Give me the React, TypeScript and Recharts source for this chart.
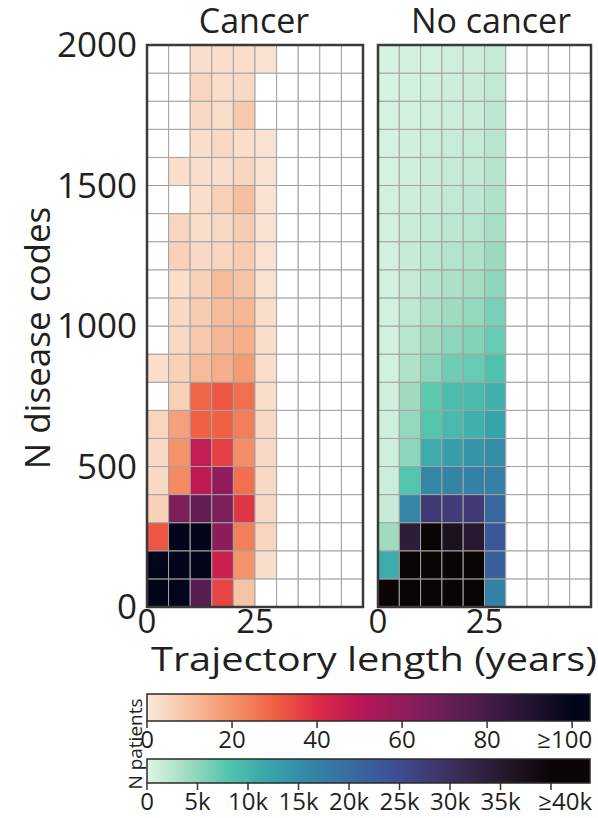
import React from "react";
import { ComposedChart, XAxis, YAxis, ReferenceArea } from "recharts";

// ---------- data ----------
const X_BIN_WIDTH = 5; // years per column
const X_BINS = [0, 5, 10, 15, 20, 25, 30, 35, 40, 45];
const Y_BIN_HEIGHT = 100; // disease codes per row
const Y_BINS = [0, 100, 200, 300, 400, 500, 600, 700, 800, 900, 1000, 1100, 1200, 1300, 1400, 1500, 1600, 1700, 1800, 1900];

const HEAT_X_TICKS = [0, 25];
const HEAT_Y_TICKS = [0, 500, 1000, 1500, 2000];

// N patients, cancer; row 0 = 0–100 codes (bottom); columns = trajectory bins (missing = 0)
const CANCER_ROWS: number[][] = [
  [100, 100, 75, 35, 9, 0],
  [100, 100, 100, 45, 20, 3],
  [32, 100, 100, 62, 24, 5],
  [6, 65, 72, 65, 38, 4],
  [4, 22, 48, 60, 27, 4],
  [4, 20, 47, 36, 21, 4],
  [5, 17, 30, 30, 24, 4],
  [0, 6, 29, 32, 27, 3],
  [3, 6, 11, 14, 18, 3],
  [0, 4, 8, 12, 14, 3],
  [0, 4, 7, 11, 12, 3],
  [0, 3, 6, 11, 9, 2],
  [0, 6, 4, 5, 7, 2],
  [0, 5, 3, 4, 7, 2],
  [0, 0, 3, 6, 10, 2],
  [0, 3, 3, 3, 5, 2],
  [0, 0, 3, 4, 3, 2],
  [0, 0, 4, 3, 8, 0],
  [0, 0, 5, 3, 4, 0],
  [0, 0, 3, 3, 3, 2],
];

// N patients (thousands), no cancer
const NOCANCER_ROWS: number[][] = [
  [41, 41, 41, 41, 41, 17],
  [11, 41, 41, 41, 41, 22],
  [4, 34, 41, 37, 35, 23],
  [1.5, 16, 28, 27.5, 28, 21],
  [1.2, 8, 16, 16.5, 17, 17],
  [1, 5, 11, 13, 14, 15],
  [1, 4.5, 8, 9.5, 10.5, 12],
  [0.9, 4, 7.5, 9, 9.5, 10.5],
  [0.8, 3, 5, 6.5, 7, 8.5],
  [0.8, 2.5, 4, 5, 5.5, 7],
  [0.8, 2, 3.3, 4, 4.5, 6],
  [0.8, 1.7, 2.6, 3.2, 3.7, 5],
  [0.7, 1.5, 2.2, 2.7, 3, 4.2],
  [0.7, 1.3, 1.8, 2.2, 2.5, 3.5],
  [0.7, 1.2, 1.5, 1.8, 2.1, 3],
  [0.6, 1, 1.3, 1.6, 1.8, 2.6],
  [0.6, 0.9, 1.2, 1.4, 1.6, 2.3],
  [0.6, 0.8, 1, 1.2, 1.4, 2.1],
  [0.5, 0.8, 0.9, 1.1, 1.3, 1.9],
  [0.5, 0.7, 0.8, 1, 1.2, 1.7],
];

// colour bars
const CANCER_BAR_MAX = 104.2;
const CANCER_SAT = 100;
const CANCER_BAR_TICKS = [0, 20, 40, 60, 80, 100];
const CANCER_BAR_LABELS = ["0", "20", "40", "60", "80", "≥100"];
const NOCANCER_BAR_MAX = 43.86;
const NOCANCER_SAT = 40;
const NOCANCER_BAR_TICKS = [0, 5, 10, 15, 20, 25, 30, 35, 40];
const NOCANCER_BAR_LABELS = ["0", "5k", "10k", "15k", "20k", "25k", "30k", "35k", "≥40k"];

// colormaps (dark -> light)
const ROCKET = ["#03051a", "#221331", "#451c47", "#6a1f56", "#921c5b", "#b91657", "#dd2c45", "#f06043", "#f5936a", "#f6bfa0", "#faebdd"];
const MAKO = ["#0b0405", "#231526", "#35264c", "#403a75", "#3d5296", "#366da0", "#3487a6", "#37a4ab", "#52c5ad", "#a0dbc0", "#def5e5"];

// ---------- helpers ----------
const FONT = "'Open Sans', 'Noto Sans', sans-serif";
const TEXT = "#231f20";

function hexToRgb(h: string) {
  const n = parseInt(h.slice(1), 16);
  return [(n >> 16) & 255, (n >> 8) & 255, n & 255];
}
function interp(stops: string[], t: number) {
  const tt = Math.max(0, Math.min(1, t)) * (stops.length - 1);
  const i = Math.min(stops.length - 2, Math.floor(tt));
  const f = tt - i;
  const a = hexToRgb(stops[i]);
  const b = hexToRgb(stops[i + 1]);
  const c = a.map((v, k) => Math.round(v + (b[k] - v) * f));
  return `rgb(${c[0]},${c[1]},${c[2]})`;
}
const cancerColor = (v: number) => (v <= 0 ? "#ffffff" : interp(ROCKET, 1 - Math.min(v, CANCER_SAT) / CANCER_SAT));
const noCancerColor = (v: number) => (v <= 0 ? "#ffffff" : interp(MAKO, 1 - Math.min(v, NOCANCER_SAT) / NOCANCER_SAT));

function buildCells(rows: number[][], colorFn: (v: number) => string) {
  const cells: { x1: number; x2: number; y1: number; y2: number; fill: string; key: string }[] = [];
  Y_BINS.forEach((y, r) => {
    X_BINS.forEach((x, c) => {
      const v = rows[r] && rows[r][c] !== undefined ? rows[r][c] : 0;
      cells.push({ x1: x, x2: x + X_BIN_WIDTH, y1: y, y2: y + Y_BIN_HEIGHT, fill: colorFn(v), key: `${r}-${c}` });
    });
  });
  return cells;
}

const X_MAX = X_BINS[X_BINS.length - 1] + X_BIN_WIDTH;
const Y_MAX = Y_BINS[Y_BINS.length - 1] + Y_BIN_HEIGHT;

function Heatmap({ rows, colorFn, showY, width, margin }: { rows: number[][]; colorFn: (v: number) => string; showY: boolean; width: number; margin: any }) {
  const cells = buildCells(rows, colorFn);
  return (
    <ComposedChart width={width} height={650} margin={margin} data={[]} style={{ overflow: "visible" }}>
      <XAxis
        type="number"
        dataKey="x"
        domain={[0, X_MAX]}
        ticks={HEAT_X_TICKS}
        allowDataOverflow
        axisLine={false}
        tickLine={false}
        tickSize={0}
        tickMargin={3}
        height={43}
        interval={0}
        tick={{ fontSize: 33, fill: TEXT, fontFamily: FONT }}
      />
      <YAxis
        type="number"
        dataKey="y"
        domain={[0, Y_MAX]}
        ticks={HEAT_Y_TICKS}
        allowDataOverflow
        hide={!showY}
        axisLine={false}
        tickLine={false}
        tickSize={8}
        tickMargin={2}
        width={100}
        interval={0}
        tick={{ fontSize: 35, fill: TEXT, fontFamily: FONT }}
      />
      {cells.map((c) => (
        <ReferenceArea key={c.key} x1={c.x1} x2={c.x2} y1={c.y1} y2={c.y2} fill={c.fill} fillOpacity={1} stroke="#a3a3a3" strokeWidth={1} ifOverflow="visible" />
      ))}
      <ReferenceArea x1={0} x2={X_MAX} y1={0} y2={Y_MAX} fill="none" fillOpacity={0} stroke="#3a3a3a" strokeWidth={2.5} ifOverflow="visible" />
    </ComposedChart>
  );
}

function makeTick(labels: string[], ticks: number[], lastDx: number) {
  return (props: any) => {
    const { x, y, payload } = props;
    const idx = ticks.indexOf(payload.value);
    const isLast = idx === ticks.length - 1;
    return (
      <text x={isLast ? x + lastDx : x} y={y} dy="0.71em" textAnchor={isLast ? "end" : "middle"} fontSize={24} fill={TEXT} fontFamily={FONT}>
        {labels[idx]}
      </text>
    );
  };
}

function ColorBar({ id, stops, satMax, barMax, ticks, labels, height, axisHeight, lastDx, tickMargin }: any) {
  const gradStops: { off: number; color: string }[] = [];
  const n = 20;
  for (let i = 0; i <= n; i++) {
    const v = (satMax * i) / n;
    gradStops.push({ off: v / barMax, color: interp(stops, 1 - i / n) });
  }
  gradStops.push({ off: 1, color: stops[0] });
  return (
    <ComposedChart width={598} height={height} margin={{ top: 4, right: 8, left: 147, bottom: 0 }} data={[{ x: 0, y: 0 }, { x: barMax, y: 1 }]} style={{ overflow: "visible" }}>
      <defs>
        <linearGradient id={id} x1="0" y1="0" x2="1" y2="0">
          {gradStops.map((s, i) => (
            <stop key={i} offset={s.off} stopColor={s.color} />
          ))}
        </linearGradient>
      </defs>
      <XAxis
        type="number"
        dataKey="x"
        domain={[0, barMax]}
        ticks={ticks}
        allowDataOverflow
        axisLine={false}
        tickLine={{ stroke: "#333", strokeWidth: 1.5 }}
        tickSize={7}
        tickMargin={tickMargin}
        height={axisHeight}
        interval={0}
        tick={makeTick(labels, ticks, lastDx)}
      />
      <YAxis type="number" dataKey="y" domain={[0, 1]} ticks={[0, 1]} allowDataOverflow hide width={0} />
      <ReferenceArea x1={0} x2={barMax} y1={0} y2={1} fill={`url(#${id})`} fillOpacity={1} stroke="#2a2a2a" strokeWidth={1.5} ifOverflow="visible" />
    </ComposedChart>
  );
}

export default function App() {
  return (
    <div style={{ position: "absolute", left: 0, top: 0, width: 598, height: 818, background: "#fff", overflow: "hidden", fontFamily: FONT }}>
      <div style={{ position: "absolute", left: 0, top: 0 }}>
        <Heatmap rows={CANCER_ROWS} colorFn={cancerColor} showY width={370} margin={{ top: 45, right: 7, left: 47, bottom: 0 }} />
      </div>
      <div style={{ position: "absolute", left: 350, top: 0 }}>
        <Heatmap rows={NOCANCER_ROWS} colorFn={noCancerColor} showY={false} width={248} margin={{ top: 45, right: 7, left: 28, bottom: 0 }} />
      </div>
      <div style={{ position: "absolute", left: 0, top: 690 }}>
        <ColorBar id="gradCancer" stops={ROCKET} satMax={CANCER_SAT} barMax={CANCER_BAR_MAX} ticks={CANCER_BAR_TICKS} labels={CANCER_BAR_LABELS} height={66} axisHeight={35} lastDx={20} tickMargin={3} />
      </div>
      <div style={{ position: "absolute", left: 0, top: 755 }}>
        <ColorBar id="gradNoCancer" stops={MAKO} satMax={NOCANCER_SAT} barMax={NOCANCER_BAR_MAX} ticks={NOCANCER_BAR_TICKS} labels={NOCANCER_BAR_LABELS} height={63} axisHeight={35} lastDx={41} tickMargin={3} />
      </div>
      <svg width={598} height={818} style={{ position: "absolute", left: 0, top: 0, pointerEvents: "none" }}>
        <text x={254} y={33} textAnchor="middle" fontSize={34} fill={TEXT} fontFamily={FONT}>Cancer</text>
        <text x={491} y={33} textAnchor="middle" fontSize={34} fill={TEXT} fontFamily={FONT}>No cancer</text>
        <text x={374} y={671} textAnchor="middle" fontSize={33} fill={TEXT} fontFamily={FONT} textLength={446} lengthAdjust="spacingAndGlyphs">Trajectory length (years)</text>
        <text x={36} y={338} textAnchor="middle" dominantBaseline="central" fontSize={35} fill={TEXT} fontFamily={FONT} transform="rotate(-90 36 338)">N disease codes</text>
        <text x={135} y={744} textAnchor="middle" dominantBaseline="central" fontSize={19} fill={TEXT} fontFamily={FONT} transform="rotate(-90 135 744)">N patients</text>
      </svg>
    </div>
  );
}
